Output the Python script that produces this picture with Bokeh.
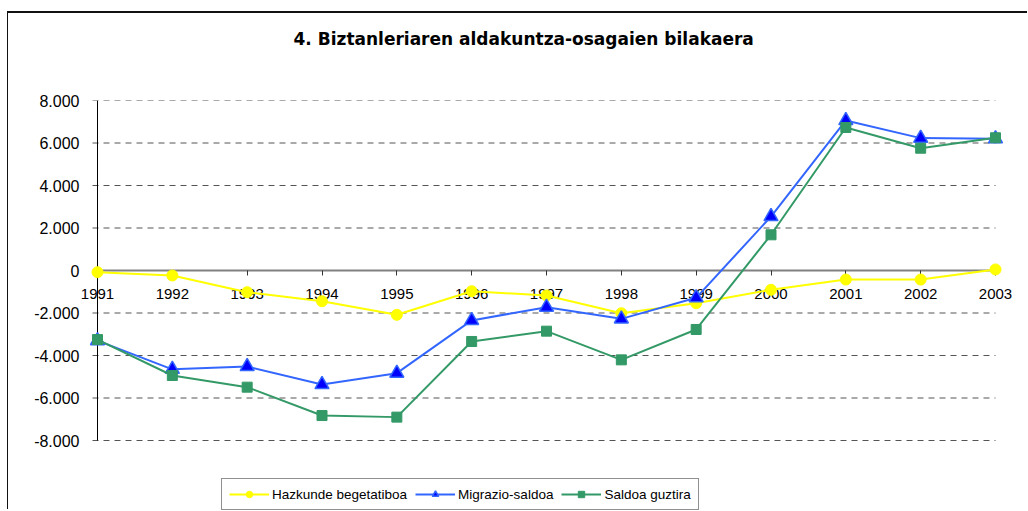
from bokeh.plotting import figure
from bokeh.models import Range1d, FixedTicker, Legend, LegendItem, Title
from bokeh.embed import file_html
from bokeh.resources import INLINE

# ---- data ----
years = [1991, 1992, 1993, 1994, 1995, 1996, 1997, 1998, 1999, 2000, 2001, 2002, 2003]
hazkunde = [-80, -235, -1020, -1445, -2085, -975, -1175, -2010, -1540, -910, -425, -425, 50]
migrazio = [-3300, -4650, -4520, -5365, -4830, -2350, -1725, -2275, -1285, 2540, 7060, 6230, 6200]
saldoa = [-3250, -4940, -5490, -6825, -6900, -3340, -2855, -4205, -2775, 1680, 6730, 5755, 6245]
series_names = ["Hazkunde begetatiboa", "Migrazio-saldoa", "Saldoa guztira"]
y_ticks = [-8000, -6000, -4000, -2000, 0, 2000, 4000, 6000, 8000]
y_tick_labels = ["-8.000", "-6.000", "-4.000", "-2.000", "0", "2.000", "4.000", "6.000", "8.000"]
title_text = "4. Biztanleriaren aldakuntza-osagaien bilakaera"

# ---- layout (pixels) ----
W, H = 1020, 498
left_b, right_b, top_b, bottom_b = 72, 16, 87, 0
frame_w = W - left_b - right_b
frame_h = H - top_b - bottom_b
pad = 17                          # px between frame side and first/last category
px_per_year = (frame_w - 2 * pad) / (years[-1] - years[0])
pad_data = pad / px_per_year
val_px = 340                      # pixel height of the -8000..8000 value span
val_per_px = (y_ticks[-1] - y_ticks[0]) / val_px
y_start = y_ticks[0] - (frame_h - val_px) * val_per_px

p = figure(width=W, height=H,
           x_range=Range1d(years[0] - pad_data, years[-1] + pad_data),
           y_range=Range1d(y_start, y_ticks[-1]),
           output_backend="svg", toolbar_location=None,
           min_border_left=left_b, min_border_right=right_b,
           min_border_top=top_b, min_border_bottom=bottom_b,
           title=title_text)
p.margin = (11, 0, 0, 7)
p.styles = {"border-top": "2px solid #111111", "border-left": "1px solid #111111"}
p.outline_line_color = None
p.background_fill_color = "white"
p.border_fill_color = "white"

# real title (outer) and a blank spacer title between it and the frame
p.title.text_font = "DejaVu Sans"
p.title.text_font_style = "bold"
p.title.text_font_size = "17px"
p.title.text_color = "black"
p.title.align = "left"
p.title.vertical_align = "top"
p.title.offset = 213
p.title.standoff = 4
p.add_layout(Title(text=" ", text_font_size="10px", standoff=35), "above")

# grid lines (dashed, from the y-axis tick to the last category)
p.xgrid.visible = False
p.ygrid.visible = False
grid_levels = [t for t in y_ticks if t != 0]
grid_x0 = years[0] - 5 / px_per_year
p.segment(x0=[grid_x0] * len(grid_levels), y0=grid_levels,
          x1=[years[-1]] * len(grid_levels), y1=grid_levels,
          line_color="#555555", line_width=1, line_dash="6 5")

# y axis: labels at frame side, line drawn at the first category
ya = p.yaxis[0]
ya.ticker = FixedTicker(ticks=y_ticks)
ya.major_label_overrides = {t: l for t, l in zip(y_ticks, y_tick_labels)}
ya.axis_line_color = None
ya.major_tick_line_color = None
ya.major_tick_out = 0
ya.major_tick_in = 0
ya.minor_tick_line_color = None
ya.major_label_standoff = 1
ya.major_label_text_font = "Liberation Sans"
ya.major_label_text_font_size = "16px"
ya.major_label_text_color = "black"
p.line([years[0], years[0]], [y_ticks[0], y_ticks[-1]], line_color="black", line_width=1)

# x axis crossing at zero
xa = p.xaxis[0]
xa.fixed_location = 0
xa.ticker = FixedTicker(ticks=years)
xa.major_label_overrides = {y: str(y) for y in years}
xa.axis_line_color = "#808080"
xa.axis_line_width = 2
xa.major_tick_line_color = "#333333"
xa.major_tick_out = 5
xa.major_tick_in = 0
xa.minor_tick_line_color = None
xa.major_label_standoff = 13
xa.major_label_text_font = "Liberation Sans"
xa.major_label_text_font_size = "15px"
xa.major_label_text_color = "black"
xa.bounds = (years[0], years[-1])
xa.level = "underlay"

# series
l1 = p.line(years, hazkunde, line_color="#FFFF00", line_width=2)
s1 = p.scatter(years, hazkunde, marker="circle", size=11, fill_color="#FFFF00", line_color="#FFFF00")
l2 = p.line(years, migrazio, line_color="#3366FF", line_width=2)
s2 = p.scatter(years, migrazio, marker="triangle", size=14, fill_color="#0000FF", line_color="#3366FF", line_width=1.5)
l3 = p.line(years, saldoa, line_color="#339966", line_width=2)
s3 = p.scatter(years, saldoa, marker="square", size=10, fill_color="#339966", line_color="#339966")

legend = Legend(items=[
    LegendItem(label=series_names[0], renderers=[l1, s1]),
    LegendItem(label=series_names[1], renderers=[l2, s2]),
    LegendItem(label=series_names[2], renderers=[l3, s3]),
], orientation="horizontal", location=(141, 1))
legend.glyph_width = 40
legend.glyph_height = 16
legend.label_standoff = 3
legend.spacing = 8
legend.padding = 7
legend.margin = 0
legend.border_line_color = "#222222"
legend.border_line_width = 1
legend.background_fill_color = "white"
legend.label_text_font = "Liberation Sans"
legend.label_text_font_size = "13.5px"
legend.label_text_color = "black"
p.add_layout(legend, "center")

open("out.html", "w").write(file_html(p, INLINE))
